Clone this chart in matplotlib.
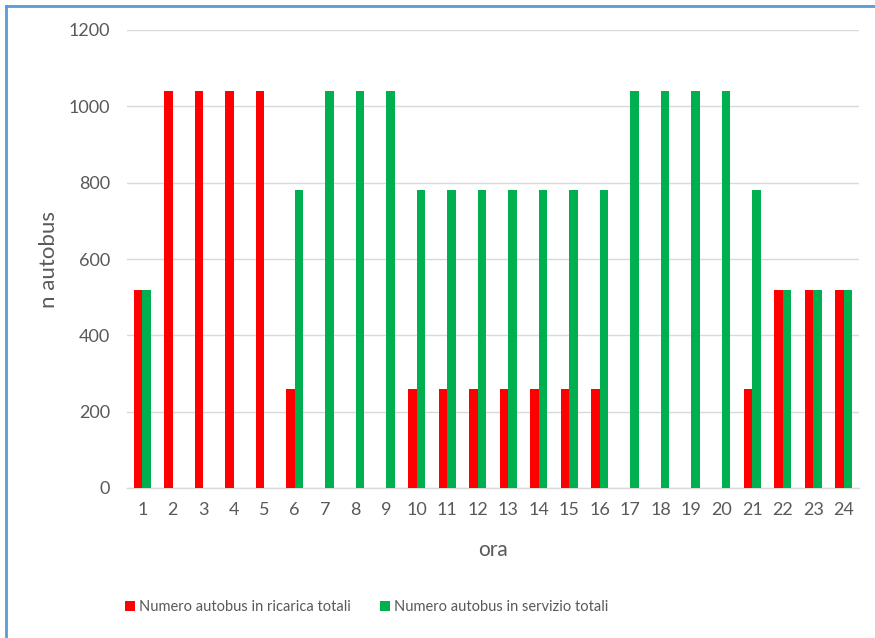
import numpy as np
import matplotlib
matplotlib.use("Agg")
import matplotlib.pyplot as plt
from matplotlib.lines import Line2D

# -----------------------------
# Data
# -----------------------------
ore = list(range(1, 25))
in_ricarica = [520, 1040, 1040, 1040, 1040, 260, 0, 0, 0,
               260, 260, 260, 260, 260, 260, 260,
               0, 0, 0, 0, 260, 520, 520, 520]
in_servizio = [520, 0, 0, 0, 0, 780, 1040, 1040, 1040,
               780, 780, 780, 780, 780, 780, 780,
               1040, 1040, 1040, 1040, 780, 520, 520, 520]
serie_labels = ["Numero autobus in ricarica totali",
                "Numero autobus in servizio totali"]

RED = "#FF0000"
GREEN = "#00B050"
TEXT = "#595959"
GRID = "#D9D9D9"
BAR_W = 0.28

plt.rcParams["font.family"] = ["Lato", "DejaVu Sans"]

fig = plt.figure(figsize=(8.75, 6.38), dpi=100)
ax = fig.add_axes([127 / 875, 1 - 488 / 638, (859 - 127) / 875, (488 - 30) / 638])

x = np.arange(len(ore))
ax.bar(x - BAR_W / 2, in_ricarica, width=BAR_W, color=RED, label=serie_labels[0], zorder=3)
ax.bar(x + BAR_W / 2, in_servizio, width=BAR_W, color=GREEN, label=serie_labels[1], zorder=3)

ax.set_xlim(-0.5, len(ore) - 0.5)
ax.set_ylim(0, 1200)
ax.set_yticks(range(0, 1201, 200))
ax.set_xticks(x)
ax.set_xticklabels([str(o) for o in ore])

ax.grid(axis="y", color=GRID, linewidth=1, zorder=0)
for s in ["top", "right", "left"]:
    ax.spines[s].set_visible(False)
ax.spines["bottom"].set_color(GRID)
ax.spines["bottom"].set_linewidth(1)
ax.tick_params(length=0, labelsize=13, labelcolor=TEXT)
ax.tick_params(axis="y", pad=12)
ax.tick_params(axis="x", pad=10)

ax.set_ylabel("n autobus", fontsize=16, color=TEXT)
ax.set_xlabel("ora", fontsize=15, color=TEXT)
ax.yaxis.set_label_coords(-(127 - 49) / 732, 0.5)
ax.xaxis.set_label_coords(0.5, -(550 - 488) / 458)
ax.xaxis.label.set_va("center")
ax.yaxis.label.set_va("center")

fig.legend(loc="center left", bbox_to_anchor=(125 / 875, 1 - 607 / 638),
           ncol=2, frameon=False, fontsize=10.5, labelcolor=TEXT,
           handlelength=0.7, handleheight=0.7, handletextpad=0.25,
           columnspacing=2.0, borderpad=0, borderaxespad=0)

# blue frame on the top and left edges
fig.add_artist(Line2D([6 / 875, 6 / 875], [0, 1 - 6 / 638], transform=fig.transFigure,
                      color="#5B9BD5", linewidth=2))
fig.add_artist(Line2D([6 / 875, 1], [1 - 6 / 638, 1 - 6 / 638], transform=fig.transFigure,
                      color="#5B9BD5", linewidth=2))

fig.savefig("out.png", dpi=100, facecolor="white")
